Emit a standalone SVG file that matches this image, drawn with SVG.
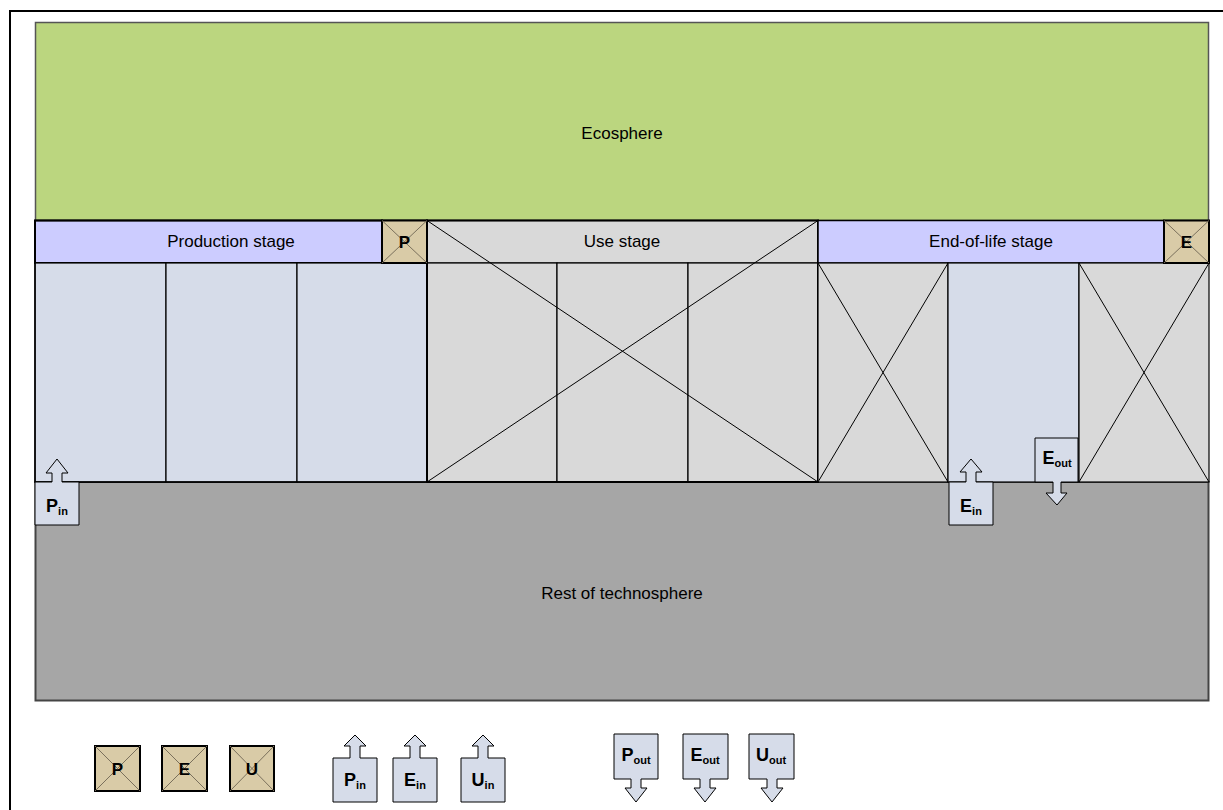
<svg xmlns="http://www.w3.org/2000/svg" width="1223" height="810" viewBox="0 0 1223 810">
<style>
.lbl{font-family:"Liberation Sans",Arial,sans-serif;font-size:17px;fill:#000;text-anchor:middle}
.big{font-family:"Liberation Sans",Arial,sans-serif;font-size:17px;font-weight:bold;fill:#000;text-anchor:middle}
.sm{font-family:"Liberation Sans",Arial,sans-serif;font-size:18px;font-weight:bold;fill:#000;text-anchor:middle}
.sub{font-size:11px}
.cell{stroke:#000;stroke-width:1.2}
.blue{fill:#D6DCE9}
.gray{fill:#D9D9D9}
.x{stroke:#000;stroke-width:1;fill:none}
.tan{fill:#D9CBA7;stroke:#000;stroke-width:2}
.tx{stroke:#7a705c;stroke-width:1;fill:none}
.arr{fill:#D6DCE9;stroke:#000;stroke-width:1}
</style>
<rect x="10" y="11" width="1230" height="820" fill="none" stroke="#000" stroke-width="2"/>
<g id="ecosphere">
<rect x="35.5" y="22.5" width="1173" height="198" fill="#BBD67F" stroke="#555" stroke-width="1.5"/>
<text class="lbl" x="622" y="139">Ecosphere</text>
</g>
<g id="technosphere">
<rect x="35.5" y="482" width="1173" height="218.5" fill="#A6A6A6" stroke="#444" stroke-width="2"/>
<text class="lbl" x="622" y="599">Rest of technosphere</text>
</g>
<g id="production">
<rect x="35" y="220.5" width="347" height="42.5" fill="#CCCCFF" stroke="#000" stroke-width="2"/>
<text class="lbl" x="231" y="247">Production stage</text>
<rect class="cell blue" x="35" y="263" width="131" height="219"/>
<rect class="cell blue" x="166" y="263" width="131" height="219"/>
<rect class="cell blue" x="297" y="263" width="130" height="219"/>
<rect x="35" y="220.5" width="392" height="261.5" fill="none" stroke="#000" stroke-width="1.5"/>
</g>
<g id="use">
<rect class="cell gray" x="427" y="220.5" width="391" height="42.5"/>
<rect class="cell gray" x="427" y="263" width="130" height="219"/>
<rect class="cell gray" x="557" y="263" width="131" height="219"/>
<rect class="cell gray" x="688" y="263" width="130" height="219"/>
<text class="lbl" x="622" y="247">Use stage</text>
<path class="x" d="M427,220.5 L818,482 M818,220.5 L427,482"/>
<rect x="427" y="220.5" width="391" height="261.5" fill="none" stroke="#000" stroke-width="2"/>
</g>
<g id="endoflife">
<rect x="818" y="220.5" width="346" height="42.5" fill="#CCCCFF" stroke="#000" stroke-width="1.5"/>
<text class="lbl" x="991" y="247">End-of-life stage</text>
<rect class="cell gray" x="818" y="263" width="130" height="219"/>
<path class="x" d="M818,263 L948,482 M948,263 L818,482"/>
<rect class="cell blue" x="948" y="263" width="131" height="219"/>
<rect class="cell gray" x="1079" y="263" width="130" height="219"/>
<path class="x" d="M1079,263 L1209,482 M1209,263 L1079,482"/>
</g>
<g id="p-box">
<rect class="tan" x="382" y="220.5" width="45" height="42.5"/>
<path class="tx" d="M382,220.5 L427,263 M427,220.5 L382,263"/>
<text class="big" x="404.5" y="248">P</text>
</g>
<g id="e-box">
<rect class="tan" x="1164" y="220.5" width="45" height="42.5"/>
<path class="tx" d="M1164,220.5 L1209,263 M1209,220.5 L1164,263"/>
<text class="big" x="1186.5" y="248">E</text>
</g>
<g id="p-in">
<path class="arr" d="M35,482 H52 V473 H46 L57,459 L68,473 H62 V482 H79 V525 H35 Z"/>
<text class="sm" x="57" y="512">P<tspan class="sub" dy="3">in</tspan></text>
</g>
<g id="e-in">
<path class="arr" d="M949,482 H966 V472 H960 L971,459 L982,472 H976 V482 H993 V525 H949 Z"/>
<text class="sm" x="971" y="512">E<tspan class="sub" dy="3">in</tspan></text>
</g>
<g id="e-out">
<path class="arr" d="M1035,438 H1078 V482 H1061 V493 H1067 L1057,505 L1046,493 H1053 V482 H1035 Z"/>
<text class="sm" x="1057" y="464">E<tspan class="sub" dy="3">out</tspan></text>
</g>
<g id="legend-p">
<rect class="tan" x="95" y="746" width="45" height="45"/>
<path class="tx" d="M95,746 L140,791 M140,746 L95,791"/>
<text class="big" x="117.5" y="775">P</text>
</g>
<g id="legend-e">
<rect class="tan" x="162" y="746" width="45" height="45"/>
<path class="tx" d="M162,746 L207,791 M207,746 L162,791"/>
<text class="big" x="184.5" y="775">E</text>
</g>
<g id="legend-u">
<rect class="tan" x="230" y="746" width="44" height="45"/>
<path class="tx" d="M230,746 L274,791 M274,746 L230,791"/>
<text class="big" x="252" y="775">U</text>
</g>
<g id="legend-p-in">
<path class="arr" d="M333,758 H350 V746 H344 L355,735 L366,746 H360 V758 H377 V802 H333 Z"/>
<text class="sm" x="355" y="786">P<tspan class="sub" dy="3">in</tspan></text>
</g>
<g id="legend-e-in">
<path class="arr" d="M393,758 H410 V746 H404 L415,735 L426,746 H420 V758 H437 V802 H393 Z"/>
<text class="sm" x="415" y="786">E<tspan class="sub" dy="3">in</tspan></text>
</g>
<g id="legend-u-in">
<path class="arr" d="M461,758 H478 V746 H472 L483,735 L494,746 H488 V758 H505 V802 H461 Z"/>
<text class="sm" x="483" y="786">U<tspan class="sub" dy="3">in</tspan></text>
</g>
<g id="legend-p-out">
<path class="arr" d="M614,734 H658 V779 H641 V788 H647 L636,802 L625,788 H631 V779 H614 Z"/>
<text class="sm" x="636" y="761">P<tspan class="sub" dy="3">out</tspan></text>
</g>
<g id="legend-e-out">
<path class="arr" d="M683,734 H728 V779 H710 V788 H716 L705,802 L694,788 H700 V779 H683 Z"/>
<text class="sm" x="705" y="761">E<tspan class="sub" dy="3">out</tspan></text>
</g>
<g id="legend-u-out">
<path class="arr" d="M749,734 H794 V779 H777 V788 H783 L772,802 L761,788 H767 V779 H749 Z"/>
<text class="sm" x="771" y="761">U<tspan class="sub" dy="3">out</tspan></text>
</g>
<g id="connectors"></g>
</svg>
